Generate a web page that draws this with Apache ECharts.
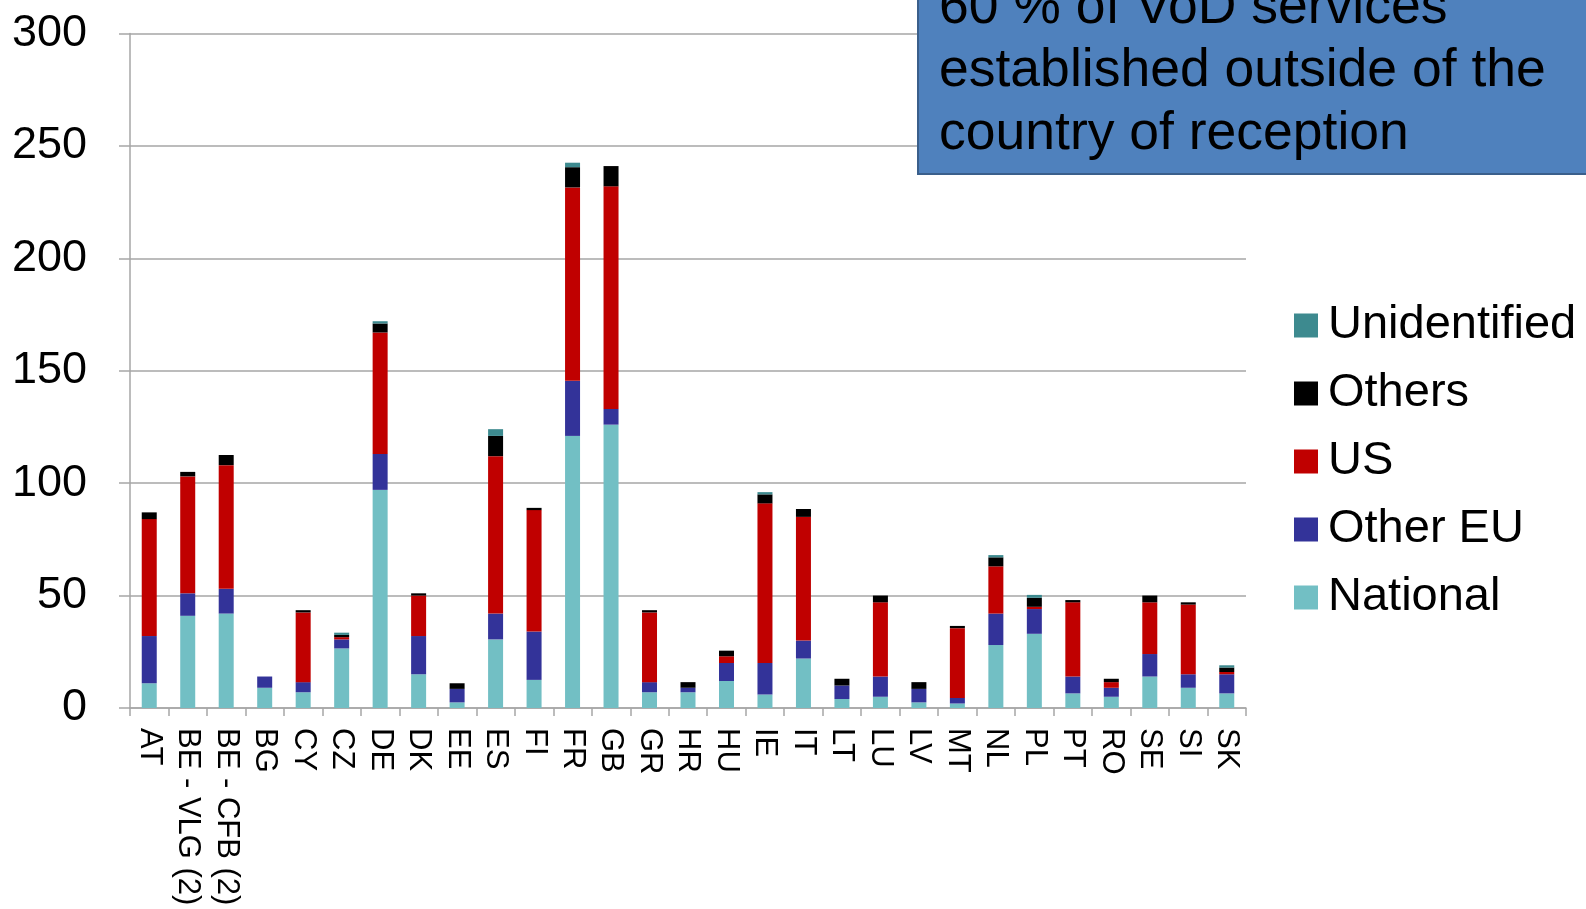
<!DOCTYPE html>
<html>
<head>
<meta charset="utf-8">
<script src="https://cdn.jsdelivr.net/npm/echarts@6/dist/echarts.min.js"></script>
<style>
  html, body { margin: 0; padding: 0; background: #ffffff; }
  #chart { width: 1586px; height: 909px; }
</style>
</head>
<body>
<div id="chart"></div>
<script>
// VoD services by country of establishment, per country of reception
const categories = ['AT', 'BE - VLG (2)', 'BE - CFB (2)', 'BG', 'CY', 'CZ', 'DE', 'DK', 'EE', 'ES',
  'FI', 'FR', 'GB', 'GR', 'HR', 'HU', 'IE', 'IT', 'LT', 'LU', 'LV', 'MT', 'NL', 'PL', 'PT', 'RO',
  'SE', 'SI', 'SK'];

const national     = [11, 41, 42, 9, 7, 26.5, 97, 15, 2.5, 30.5, 12.5, 121, 126, 7, 7, 12, 6, 22, 4, 5, 2.5, 2, 28, 33, 6.5, 5, 14, 9, 6.5];
const otherEU      = [21, 10, 11, 5, 4.5, 4, 16, 17, 6, 11.5, 21.5, 24.5, 7, 4.5, 2, 8, 14, 8, 6, 9, 6, 2.5, 14, 11, 7.5, 4, 10, 6, 8.5];
const us           = [52, 52, 55, 0, 31, 1, 54, 18, 0, 70, 54, 86, 99, 31, 0, 3, 71, 55, 0, 33, 0, 31, 21, 1, 33, 2.5, 23, 31, 1];
const others       = [3, 2, 4.5, 0, 1, 1, 4, 1, 2.5, 9, 1, 9, 9, 1, 2.5, 2.5, 4, 3.5, 3, 3, 3, 1, 4, 4, 1, 1.5, 3, 1, 2];
const unidentified = [0, 0, 0, 0, 0, 1, 1, 0, 0, 3, 0, 2, 0, 0, 0, 0, 1, 0, 0, 0, 0, 0, 1, 1.3, 0, 0, 0, 0, 1];

const yTicks = { min: 0, max: 300, interval: 50 };

const calloutLines = ['60 % of VoD services', 'established outside of the', 'country of reception'];

const FONT = '"Liberation Sans", Arial, Helvetica, sans-serif';
const GRID_GREY = '#a6a6a6';

const seriesDefs = [
  { name: 'National', data: national, color: '#72bfc4' },
  { name: 'Other EU', data: otherEU, color: '#333399' },
  { name: 'US', data: us, color: '#c00000' },
  { name: 'Others', data: others, color: '#000000' },
  { name: 'Unidentified', data: unidentified, color: '#3d8a8f' }
];

const chart = echarts.init(document.getElementById('chart'), null, { renderer: 'canvas' });

chart.setOption({
  animation: false,
  backgroundColor: '#ffffff',
  textStyle: { fontFamily: FONT },
  grid: { left: 130, right: 340, top: 33.4, bottom: 201, containLabel: false },
  legend: {
    orient: 'vertical',
    left: 1289,
    top: 297,
    itemWidth: 24,
    itemHeight: 24,
    itemGap: 21,
    icon: 'rect',
    data: ['Unidentified', 'Others', 'US', 'Other EU', 'National'],
    textStyle: { fontFamily: FONT, fontSize: 47, color: '#000', lineHeight: 47, padding: [0, 0, 0, 5] }
  },
  xAxis: {
    type: 'category',
    data: categories,
    axisLine: { lineStyle: { color: GRID_GREY, width: 1.5 } },
    axisTick: { show: true, length: 8, interval: 0, lineStyle: { color: GRID_GREY, width: 1.5 } },
    axisLabel: { interval: 0, rotate: -90, margin: 20, fontSize: 31, color: '#000', fontFamily: FONT }
  },
  yAxis: {
    type: 'value',
    min: yTicks.min,
    max: yTicks.max,
    interval: yTicks.interval,
    axisLine: { show: true, lineStyle: { color: GRID_GREY, width: 1.5 } },
    axisTick: { show: true, length: 11, lineStyle: { color: GRID_GREY, width: 1.5 } },
    splitLine: { show: true, lineStyle: { color: GRID_GREY, width: 1.5 } },
    axisLabel: { margin: 43, fontSize: 45, color: '#000', fontFamily: FONT }
  },
  series: seriesDefs.map(s => ({
    name: s.name,
    type: 'bar',
    stack: 'total',
    barWidth: 15,
    data: s.data,
    itemStyle: { color: s.color },
    emphasis: { disabled: true }
  })),
  graphic: [
    {
      type: 'rect',
      z: 100,
      shape: { x: 918, y: -10, width: 680, height: 184 },
      style: { fill: '#4f81bd', stroke: '#3a5f8b', lineWidth: 2 }
    },
    ...calloutLines.map((line, i) => ({
      type: 'text',
      z: 101,
      x: 939,
      y: 8 + i * 63,
      style: {
        text: line,
        fill: '#000',
        font: '53.5px ' + FONT,
        verticalAlign: 'middle',
        align: 'left'
      }
    }))
  ]
});
</script>
</body>
</html>
